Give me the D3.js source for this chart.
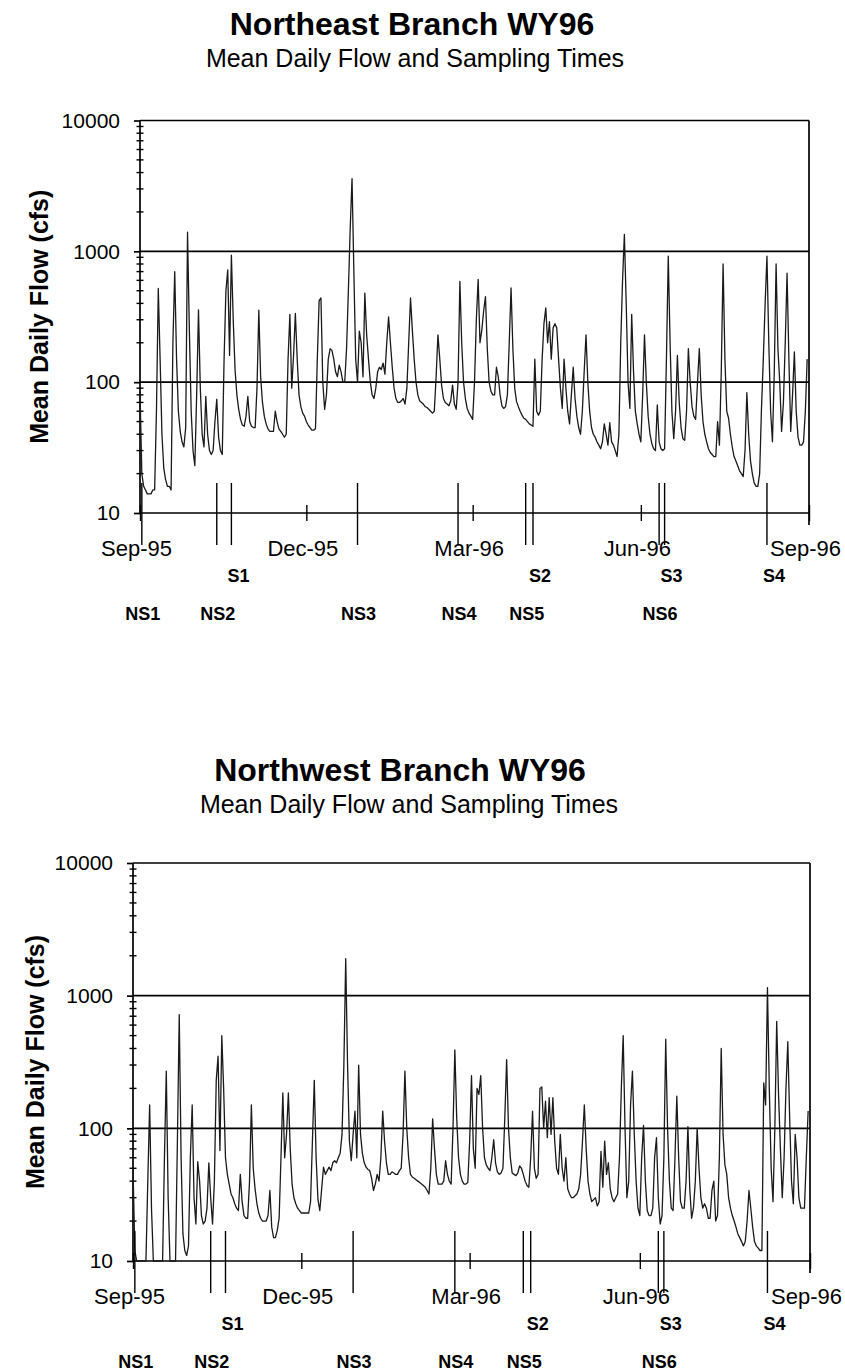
<!DOCTYPE html>
<html><head><meta charset="utf-8">
<script src="https://cdn.jsdelivr.net/npm/d3@7"></script>
<style>
body{margin:0;background:#fff}
svg{display:block}
text{font-family:"Liberation Sans",Arial,Helvetica,sans-serif;fill:#000}
</style>
</head><body>
<svg id="chart" width="845" height="1372"></svg>
<script>
// ---------------- DATA ----------------
const chartTitles = ["Northeast Branch WY96", "Northwest Branch WY96"];
const chartSubtitle = "Mean Daily Flow and Sampling Times";
const yAxisTitle = "Mean Daily Flow (cfs)";
const yTickValues = [10, 100, 1000, 10000];
const xTickLabels = ["Sep-95", "Dec-95", "Mar-96", "Jun-96", "Sep-96"];
const xTickDates = ["1995-09-30", "1995-12-30", "1996-03-30", "1996-06-30", "1996-09-30"];
const firstDay = "1995-09-30";
const sampleLabels = ["NS1", "NS2", "S1", "NS3", "NS4", "NS5", "S2", "NS6", "S3", "S4"];
const sampleDates = ["1995-10-01", "1995-11-11", "1995-11-19", "1996-01-27", "1996-03-22",
                     "1996-04-28", "1996-05-02", "1996-07-10", "1996-07-13", "1996-09-07"];

// mean daily flow (cfs), one value per day from the first day of the axis
const northeastFlow = [
 85,20,16,15,14,14,14,15,15,60,
 520,150,40,22,18,16,16,15,200,700,
 150,60,42,35,32,45,1400,250,60,30,
 23,80,356,90,40,32,78,40,30,28,
 30,50,74,38,30,28,150,500,720,160,
 935,300,125,80,62,52,47,46,55,78,
 50,46,45,45,90,355,110,70,55,48,
 44,42,42,42,60,50,44,42,40,38,
 40,150,330,90,160,335,150,80,65,58,
 55,50,47,45,43,43,44,150,420,440,
 100,62,80,150,180,175,150,120,110,135,
 120,100,100,180,500,1500,3600,700,150,100,
 245,200,110,480,230,150,100,80,75,90,
 120,130,125,140,115,200,315,200,130,90,
 75,70,70,72,75,68,90,200,440,250,
 150,100,80,72,70,68,65,64,62,60,
 58,60,110,230,150,95,75,70,68,66,
 72,95,68,62,100,590,200,100,75,63,
 58,55,52,100,300,610,200,250,350,450,
 180,100,85,80,80,130,110,80,66,63,
 65,80,200,525,180,90,71,65,60,56,
 53,52,50,48,47,46,150,60,56,60,
 150,280,370,200,290,150,260,280,260,150,
 90,63,150,90,60,48,80,130,75,55,
 45,40,60,120,230,100,60,45,40,38,
 35,33,31,35,48,40,33,49,35,33,
 30,27,40,200,600,1350,400,100,63,330,
 120,60,48,40,35,80,230,100,55,40,
 34,31,30,67,35,31,30,31,150,920,
 200,60,37,60,160,70,45,37,36,60,
 180,100,65,55,52,100,180,80,50,40,
 35,31,29,28,27,27,50,33,120,800,
 150,60,53,40,32,27,25,23,21,20,
 19,30,83,40,25,20,17,16,16,20,
 63,150,400,920,200,60,35,120,800,180,
 100,42,70,200,680,150,42,80,170,60,
 38,33,33,35,60,150
];

const northwestFlow = [
 50,12,8,7,7,7,7,8,40,150,
 25,9,8,7,7,7,9,60,270,30,
 9,8,8,9,80,720,60,16,12,11,
 13,60,150,30,19,56,40,22,19,20,
 25,55,30,19,40,230,350,68,500,200,
 60,45,38,32,30,27,25,24,45,28,
 22,21,21,40,150,50,35,27,23,21,
 20,20,20,22,34,18,15,15,17,21,
 60,185,60,90,185,70,38,30,27,25,
 24,23,23,23,23,23,28,80,230,60,
 29,24,35,51,45,48,51,48,55,57,
 55,60,65,90,300,1900,300,80,57,90,
 135,60,300,90,65,55,51,49,48,42,
 34,38,45,40,60,135,80,55,45,45,
 47,46,45,45,48,50,90,270,100,60,
 45,43,42,41,40,39,38,37,36,34,
 32,50,118,70,45,38,38,38,40,57,
 45,40,38,100,390,120,60,45,40,38,
 38,39,80,250,70,50,200,180,250,100,
 60,53,50,48,60,82,55,47,45,46,
 50,120,330,100,60,46,45,44,46,52,
 50,45,40,37,36,60,135,50,42,45,
 200,205,100,160,85,170,90,170,80,50,
 45,90,50,40,60,35,32,30,30,31,
 32,35,45,80,150,70,40,32,28,29,
 30,26,28,67,36,80,45,55,35,30,
 28,30,32,60,200,500,100,30,40,150,
 270,90,40,25,22,60,105,40,24,22,
 22,25,60,85,30,19,22,60,470,100,
 40,25,24,60,175,60,28,25,25,40,
 103,35,21,25,40,100,50,30,25,27,
 25,21,21,34,40,20,22,60,400,90,
 53,45,30,25,22,20,18,16,15,14,
 13,14,20,34,25,18,14,13,12.5,12,
 12,220,150,1150,200,50,28,100,640,180,
 70,30,60,200,450,120,40,27,90,60,
 30,25,25,25,60,135
];

// ---------------- LAYOUT ----------------
const parse = d3.timeParse("%Y-%m-%d");
const svg = d3.select("#chart");

const panels = [
  {title: chartTitles[0], values: northeastFlow,
   left: 140, right: 809, top: 120.5, bottom: 513,
   titleX: 412, titleY: 35, subX: 415, subY: 67, yTitleX: 39},
  {title: chartTitles[1], values: northwestFlow,
   left: 133, right: 810, top: 863, bottom: 1261,
   titleX: 400, titleY: 781, subX: 409, subY: 813, yTitleX: 35}
];

panels.forEach(p => {
  const g = svg.append("g");
  const x = d3.scaleTime()
    .domain([parse(xTickDates[0]), parse(xTickDates[xTickDates.length - 1])])
    .range([p.left, p.right]);
  const y = d3.scaleLog().domain([10, 10000]).range([p.bottom, p.top]).clamp(true);

  // titles
  g.append("text").attr("x", p.titleX).attr("y", p.titleY)
    .attr("text-anchor", "middle").attr("font-weight", "bold").attr("font-size", 32)
    .text(p.title);
  g.append("text").attr("x", p.subX).attr("y", p.subY)
    .attr("text-anchor", "middle").attr("font-size", 25)
    .text(chartSubtitle);

  // horizontal grid lines (incl. top frame)
  g.selectAll(".grid").data(yTickValues.slice(1)).join("line")
    .attr("x1", p.left).attr("x2", p.right)
    .attr("y1", d => y(d)).attr("y2", d => y(d))
    .attr("stroke", "#000").attr("stroke-width", 1.7);
  // right frame
  g.append("line").attr("x1", p.right).attr("x2", p.right)
    .attr("y1", p.top).attr("y2", p.bottom + 12)
    .attr("stroke", "#000").attr("stroke-width", 1.7);

  // y axis (major ticks + labels)
  const yAxis = d3.axisLeft(y).tickValues(yTickValues)
    .tickFormat(d3.format("d")).tickSize(6).tickPadding(14);
  const ya = g.append("g").attr("transform", `translate(${p.left},0)`).call(yAxis);
  ya.select(".domain").attr("stroke-width", 1.7).attr("d", `M0,${p.top}V${p.bottom}`);
  ya.selectAll(".tick line").attr("stroke-width", 1.7);
  ya.selectAll(".tick text").attr("font-size", 21)
    .attr("font-family", '"Liberation Sans",Arial,sans-serif');

  // y minor ticks crossing the axis
  g.selectAll(".minor").data(y.ticks().filter(v => !yTickValues.includes(v))).join("line")
    .attr("x1", p.left - 3.5).attr("x2", p.left + 3.5)
    .attr("y1", d => y(d)).attr("y2", d => y(d))
    .attr("stroke", "#000").attr("stroke-width", 1.4);

  // y axis title
  g.append("text")
    .attr("transform", `translate(${p.yTitleX},${(p.top + p.bottom) / 2}) rotate(-90)`)
    .attr("text-anchor", "middle").attr("dy", "0.35em")
    .attr("font-weight", "bold").attr("font-size", 25)
    .text(yAxisTitle);

  // x axis line
  g.append("line").attr("x1", p.left).attr("x2", p.right)
    .attr("y1", p.bottom).attr("y2", p.bottom)
    .attr("stroke", "#000").attr("stroke-width", 1.7);
  // x axis ticks crossing the axis + labels
  const xAxis = d3.axisBottom(x).tickValues(xTickDates.map(parse))
    .tickFormat((d, i) => xTickLabels[i]).tickSize(16);
  const xa = g.append("g").attr("transform", `translate(0,${p.bottom - 8})`).call(xAxis);
  xa.select(".domain").remove();
  xa.selectAll(".tick line").attr("stroke-width", 1.4);
  xa.selectAll(".tick text").attr("font-size", 22).attr("dy", null).attr("y", 51).attr("x", -4)
    .attr("font-family", '"Liberation Sans",Arial,sans-serif');

  // flow line
  const days = p.values.map((v, i) => ({date: d3.timeDay.offset(parse(firstDay), i), v}));
  g.append("path").datum(days)
    .attr("fill", "none").attr("stroke", "#1a1a1a").attr("stroke-width", 1.3)
    .attr("stroke-linejoin", "round")
    .attr("d", d3.line().x(d => x(d.date)).y(d => y(d.v)));

  // sampling times
  const samples = sampleDates.map((d, i) => ({date: parse(d), label: sampleLabels[i]}));
  g.selectAll(".samp").data(samples).join("line")
    .attr("x1", d => x(d.date)).attr("x2", d => x(d.date))
    .attr("y1", p.bottom - 30).attr("y2", p.bottom + 32)
    .attr("stroke", "#000").attr("stroke-width", 1.4);
  g.selectAll(".slab").data(samples).join("text")
    .attr("x", d => x(d.date) + (d.label.startsWith("NS") ? 1 : 7))
    .attr("y", d => p.bottom + (d.label.startsWith("NS") ? 107 : 69))
    .attr("text-anchor", "middle").attr("font-weight", "bold").attr("font-size", 18)
    .text(d => d.label);
});
</script>
</body></html>
